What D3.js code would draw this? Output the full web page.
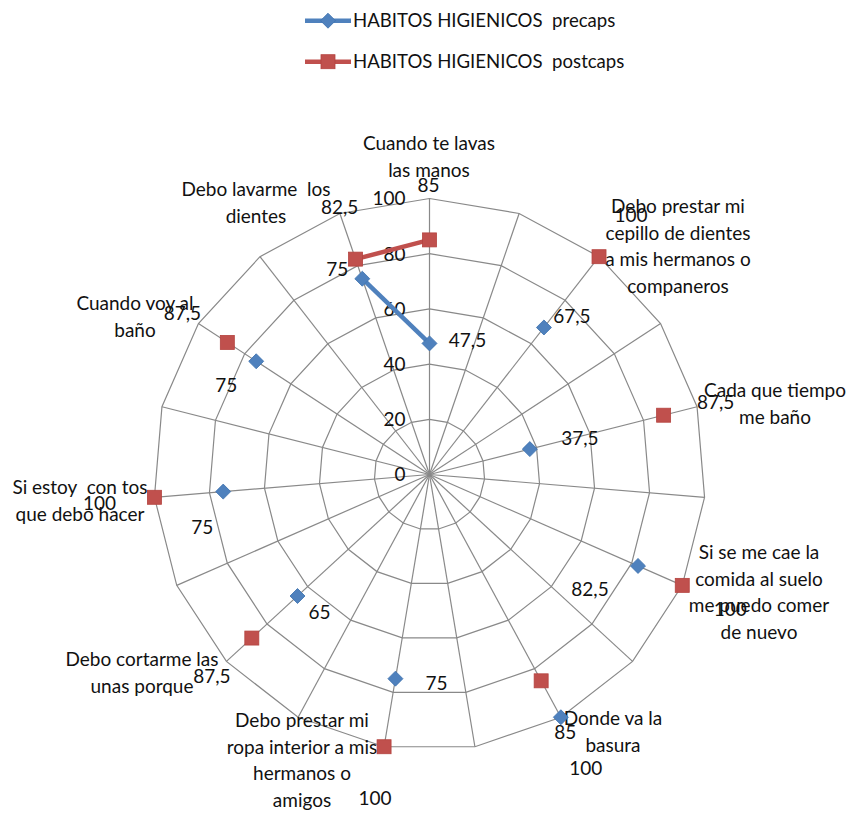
<!DOCTYPE html>
<html>
<head>
<meta charset="utf-8">
<script src="https://cdn.jsdelivr.net/npm/d3@7"></script>
<style>
  body { margin: 0; background: #fff; }
  svg text { font-family: Lato, "Open Sans", sans-serif; fill: #111; white-space: pre; }
</style>
</head>
<body>
<div id="chart"></div>
<script>
// 19 category slots, every other one is blank in the sheet
const categories = [
  "Cuando te lavas|las manos", "",
  "Debo prestar mi|cepillo de dientes|a mis hermanos o|companeros", "",
  "Cada que tiempo|me baño", "",
  "Si se me cae la|comida al suelo|me puedo comer|de nuevo", "",
  "Donde va la|basura", "",
  "Debo prestar mi|ropa interior a mis|hermanos o|amigos", "",
  "Debo cortarme las|unas porque", "",
  "Si estoy  con tos|que debo hacer", "",
  "Cuando voy al|baño", "",
  "Debo lavarme  los|dientes"
];
const precaps  = [47.5, null, 67.5, null, 37.5, null, 82.5, null, 100, null, 75, null, 65, null, 75, null, 75, null, 75];
const postcaps = [85, null, 100, null, 87.5, null, 100, null, 85, null, 100, null, 87.5, null, 100, null, 87.5, null, 82.5];
const radialTicks = [0, 20, 40, 60, 80, 100];
const seriesNames = ["HABITOS HIGIENICOS  precaps", "HABITOS HIGIENICOS  postcaps"];

// layout only: where the wrapped category labels sit, and hand-moved data labels
const catLabelPos = [
  [429, 143], null, [678, 206], null, [775, 390], null, [759, 552], null, [613, 718], null,
  [302, 720], null, [142, 659], null, [80, 487], null, [135, 303], null, [256, 189]
];
const preLabelOff = [[38, -3], null, [28, -11], null, [50, -11], null, [-48, 23], null, [25, 51], null,
  [41, 4], null, [22, 16], null, [-21, 36], null, [-30, 24], null, [-25, -10]];
const postLabelOff = [[-1, -55], null, [32, -42], null, [52, -13], null, [48, 24], null, [24, 51], null,
  [-9, 51], null, [-40, 38], null, [-55, 6], null, [-45, -29], null, [-16, -52]];

const width = 852, height = 814;
const cx = 429.5, cy = 474.5, R = 276;
const n = categories.length;
const fmt = v => String(v).replace(".", ",");

const svg = d3.select("#chart").append("svg")
  .attr("width", width).attr("height", height);

const r = d3.scaleLinear().domain([0, 100]).range([0, R]);
const ang = d3.scaleLinear().domain([0, n]).range([0, 2 * Math.PI]);
const px = (i, v) => cx + r(v) * Math.sin(ang(i));
const py = (i, v) => cy - r(v) * Math.cos(ang(i));

const g = svg.append("g");

// rings
radialTicks.filter(t => t > 0).forEach(t => {
  const pts = d3.range(n).map(i => [px(i, t), py(i, t)]);
  g.append("polygon")
    .attr("points", pts.map(p => p.join(",")).join(" "))
    .attr("fill", "none").attr("stroke", "#898989").attr("stroke-width", 1.2);
});
// spokes
d3.range(n).forEach(i => {
  g.append("line")
    .attr("x1", cx).attr("y1", cy)
    .attr("x2", px(i, 100)).attr("y2", py(i, 100))
    .attr("stroke", "#898989").attr("stroke-width", 1.2);
});

// radial tick labels
g.selectAll(".tick").data(radialTicks).enter().append("text")
  .attr("x", cx - 24).attr("y", d => cy - r(d))
  .attr("dy", "0.36em").attr("text-anchor", "end")
  .style("font-size", "19px").text(d => d);

// category labels
categories.forEach((c, i) => {
  if (!c) return;
  const t = g.append("text").attr("text-anchor", "middle").style("font-size", "19px");
  c.split("|").forEach((line, k) => {
    t.append("tspan").attr("x", catLabelPos[i][0])
      .attr("y", catLabelPos[i][1] + k * 26.7).attr("dy", "0.36em").text(line);
  });
});

const series = [
  { name: seriesNames[0], values: precaps, color: "#4F81BD", stroke: "#3F72AF", shape: "diamond", off: preLabelOff },
  { name: seriesNames[1], values: postcaps, color: "#C0504D", stroke: "#B4433F", shape: "square", off: postLabelOff }
];

function marker(sel, s, x, y) {
  if (s.shape === "diamond") {
    sel.append("rect").attr("x", -5.3).attr("y", -5.3).attr("width", 10.6).attr("height", 10.6)
      .attr("transform", `translate(${x},${y}) rotate(45)`)
      .attr("fill", s.color).attr("stroke", s.stroke).attr("stroke-width", 0.8);
  } else {
    sel.append("rect").attr("x", x - 7).attr("y", y - 7).attr("width", 14).attr("height", 14)
      .attr("fill", s.color).attr("stroke", s.stroke).attr("stroke-width", 0.8);
  }
}

// lines: Excel joins only neighbouring filled slots, wrapping last -> first
const lineGen = d3.lineRadial()
  .angle(d => ang(d.i))
  .radius(d => r(d.v))
  .defined(d => d.v != null);

series.forEach(s => {
  const pts = s.values.map((v, i) => ({ i, v }));
  pts.push({ i: n, v: s.values[0] });
  g.append("path")
    .attr("transform", `translate(${cx},${cy})`)
    .attr("d", lineGen(pts))
    .attr("fill", "none").attr("stroke", s.color).attr("stroke-width", 4.5)
    .attr("stroke-linejoin", "round");
});

series.forEach(s => {
  s.values.forEach((v, i) => {
    if (v == null) return;
    marker(g, s, px(i, v), py(i, v));
  });
});

series.forEach(s => {
  s.values.forEach((v, i) => {
    if (v == null) return;
    g.append("text")
      .attr("x", px(i, v) + s.off[i][0]).attr("y", py(i, v) + s.off[i][1])
      .attr("dy", "0.36em").attr("text-anchor", "middle")
      .style("font-size", "19px").text(fmt(v));
  });
});

// legend
const legend = svg.append("g");
series.forEach((s, k) => {
  const y = 20.7 + k * 41;
  legend.append("line").attr("x1", 305).attr("x2", 351).attr("y1", y).attr("y2", y)
    .attr("stroke", s.color).attr("stroke-width", 4.5);
  marker(legend, s, 328, y);
  legend.append("text").attr("x", 353).attr("y", y).attr("dy", "0.36em")
    .style("font-size", "18.6px").text(s.name);
});
</script>
</body>
</html>
